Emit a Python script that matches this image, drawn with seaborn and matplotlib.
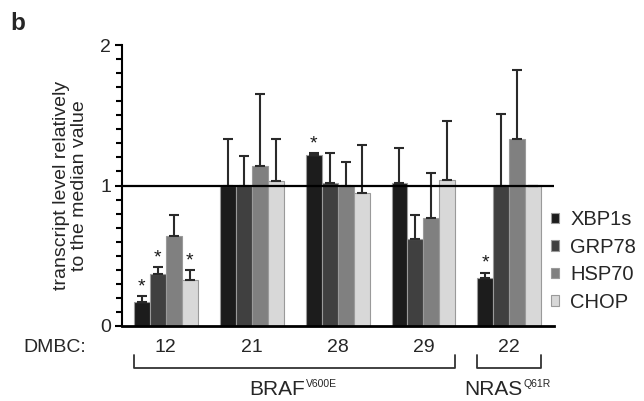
import numpy as np
import pandas as pd
import matplotlib
matplotlib.use("Agg")
import matplotlib.pyplot as plt
import matplotlib.transforms as mtransforms
import seaborn as sns

# ---- data ----
cell_lines = ["12", "21", "28", "29", "22"]
genes = ["XBP1s", "GRP78", "HSP70", "CHOP"]
xbp1s = [0.17, 1.00, 1.22, 1.02, 0.34]
grp78 = [0.37, 1.00, 1.02, 0.62, 1.00]
hsp70 = [0.64, 1.14, 1.00, 0.77, 1.33]
chop = [0.33, 1.03, 0.95, 1.04, 1.00]
xbp1s_err = [0.04, 0.33, 0.01, 0.25, 0.04]
grp78_err = [0.05, 0.21, 0.21, 0.17, 0.51]
hsp70_err = [0.15, 0.51, 0.17, 0.32, 0.49]
chop_err = [0.07, 0.30, 0.34, 0.42, 0.00]
xbp1s_sig = [1, 0, 1, 0, 1]
grp78_sig = [1, 0, 0, 0, 0]
hsp70_sig = [0, 0, 0, 0, 0]
chop_sig = [1, 0, 0, 0, 0]
colors = ["#1c1c1c", "#404040", "#808080", "#d8d8d8"]
groups = [("BRAF", "V600E", 0, 3), ("NRAS", "Q61R", 4, 4)]
y_ticks = [0, 1, 2]

values = [xbp1s, grp78, hsp70, chop]
errors = [xbp1s_err, grp78_err, hsp70_err, chop_err]
sigs = [xbp1s_sig, grp78_sig, hsp70_sig, chop_sig]

rows = []
for g, vals in zip(genes, values):
    for c, v in zip(cell_lines, vals):
        rows.append({"line": c, "gene": g, "value": v})
df = pd.DataFrame(rows)

sns.set_style("ticks")
plt.rcParams["font.family"] = ["Liberation Sans", "DejaVu Sans"]

fig = plt.figure(figsize=(6.44, 4.01), dpi=100)
ax = fig.add_axes([122 / 644, 1 - 326 / 401, (554 - 122) / 644, (326 - 45) / 401])

bar_w = 0.744
sns.barplot(data=df, x="line", y="value", hue="gene", order=cell_lines,
            hue_order=genes, palette=colors, width=bar_w, errorbar=None,
            edgecolor="#9a9a9a", linewidth=0.8, saturation=1, ax=ax)

# error bars (upper only) and significance stars
for cont, err, sig in zip(ax.containers, errors, sigs):
    xs = [p.get_x() + p.get_width() / 2 for p in cont.patches]
    hs = [p.get_height() for p in cont.patches]
    ax.errorbar(xs, hs, yerr=[np.zeros(len(err)), err], fmt="none",
                ecolor="#2a2a2a", elinewidth=1.5, capsize=3.5, capthick=1.5,
                zorder=3)
    for x, h, e, s in zip(xs, hs, err, sig):
        if s:
            ax.text(x, h + e + 0.005, "*", ha="center", va="bottom",
                    fontsize=14, color="#1a1a1a")

ax.axhline(1, color="black", lw=1.6, zorder=4)

ax.set_ylim(0, 2)
ax.set_xlim(-0.51, 4.52)
ax.set_yticks(y_ticks)
ax.set_yticklabels([str(t) for t in y_ticks], fontsize=14)
ax.set_yticks(np.arange(0, 2.01, 0.1), minor=True)
ax.tick_params(axis="y", which="major", length=5, width=1.5, pad=3, color="black")
ax.tick_params(axis="y", which="minor", length=4, width=1.5, color="black")
ax.tick_params(axis="x", length=0, pad=9, labelsize=14)
ax.set_xlabel("")
ax.set_ylabel("transcript level relatively\nto the median value", fontsize=14,
              linespacing=1.1)
ax.yaxis.set_label_coords(-0.079, 0.5)
sns.despine(ax=ax)
ax.spines["left"].set_linewidth(1.5)
ax.spines["bottom"].set_linewidth(2)
ax.spines["left"].set_color("black")
ax.spines["bottom"].set_color("black")

# legend
handles, labels = ax.get_legend_handles_labels()
ax.legend(handles, labels, loc="center left", bbox_to_anchor=(551 / 644, 1 - 261 / 401),
          bbox_transform=fig.transFigure, frameon=False, fontsize=14.5,
          handlelength=0.4, handleheight=0.4, handletextpad=0.55,
          labelspacing=0.42, borderpad=0, borderaxespad=0)

# DMBC label
ax.text(-0.155, -0.077, "DMBC:", transform=ax.transAxes, ha="center", va="center",
        fontsize=14)

# brackets + group labels
trans = mtransforms.blended_transform_factory(ax.transData, ax.transAxes)
half = bar_w / 2
for name, sup, i0, i1 in groups:
    x0, x1 = i0 - half, i1 + half
    ax.plot([x0, x0, x1, x1], [-0.103, -0.149, -0.149, -0.103], color="#333333",
            lw=1.3, transform=trans, clip_on=False)
    xc = (x0 + x1) / 2
    off = 0.122 if name == "BRAF" else 0.157
    ax.text(xc + off, -0.2456, name, transform=trans, ha="right",
            va="baseline", fontsize=15)
    ax.text(xc + off + 0.01, -0.218, sup, transform=trans, ha="left",
            va="baseline", fontsize=7.5)

fig.text(10 / 644, 1 - 30 / 401, "b", fontsize=17.5, fontweight="bold", va="baseline")

fig.savefig("out.png", dpi=100)
